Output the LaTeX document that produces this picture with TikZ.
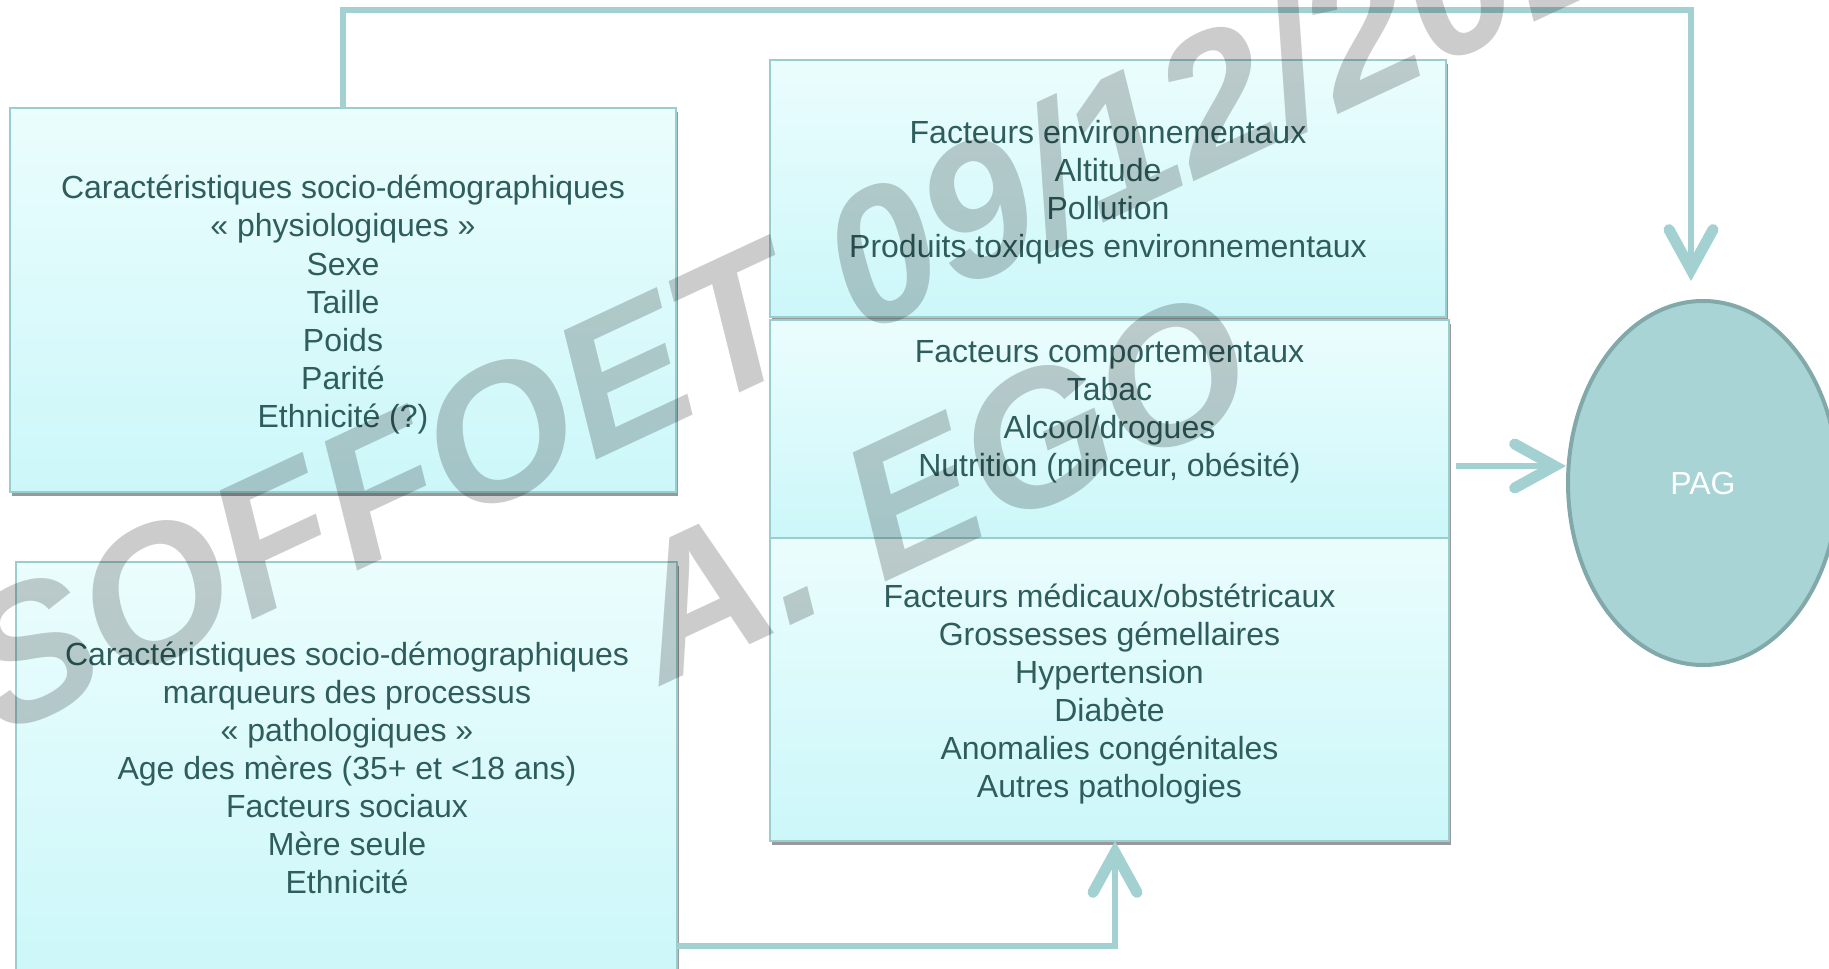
\documentclass[tikz,border=0pt]{standalone}
\usepackage{fontspec}
\setmainfont{Liberation Sans}
\usetikzlibrary{arrows.meta,shadows,shapes.geometric}
\definecolor{txt}{HTML}{2E5D5C}
\definecolor{boxtop}{HTML}{EBFDFD}
\definecolor{boxbot}{HTML}{CCF7F9}
\definecolor{boxline}{HTML}{9ACDD0}
\definecolor{arrowc}{HTML}{A3D1D2}
\definecolor{pagfill}{HTML}{A9D4D5}
\definecolor{pagline}{HTML}{82A9AA}
\begin{document}
\begin{tikzpicture}[x=0.5pt,y=-0.5pt,
  box/.style={draw=boxline, line width=0.9pt, top color=boxtop, bottom color=boxbot,
    inner sep=0pt, outer sep=0pt,
    drop shadow={shadow xshift=1.2pt, shadow yshift=-1.8pt, opacity=0.4, fill=black}},
  boxtext/.style={text=txt, align=center, font=\fontsize{16}{19.05}\selectfont, inner sep=0pt},
  conn/.style={draw=arrowc, line width=3pt},
  tipped/.style={-{Straight Barb[length=20pt,width=22pt,line width=5.5pt,line cap=round]}},
  wm/.style={font=\fontsize{95}{95}\selectfont\bfseries\itshape, text=black, text opacity=0.2,
    inner sep=0pt, anchor=base west, rotate=25},
]
\path[use as bounding box, clip] (0,0) rectangle (1829,968);
\fill[white] (0,0) rectangle (1829,968);

% left boxes
\node[box, minimum width=333pt, minimum height=192pt] (b1) at (343,300) {};
\node[boxtext] (t1) at (343,304.7)
  {Caractéristiques socio-démographiques\\« physiologiques »\\Sexe\\Taille\\Poids\\Parité\\Ethnicité (?)};
\node[box, minimum width=330.5pt, minimum height=206.5pt] (b2) at (346.5,768.5) {};
\node[boxtext] (t2) at (347,768)
  {Caractéristiques socio-démographiques\\marqueurs des processus\\« pathologiques »\\Age des mères (35+ et <18 ans)\\Facteurs sociaux\\Mère seule\\Ethnicité};

% right column
\node[box, minimum width=338pt, minimum height=128.5pt] (bA) at (1108,188.5) {};
\node[boxtext] (tA) at (1108,192)
  {Facteurs environnementaux\\Altitude\\Pollution\\Produits toxiques environnementaux};
\node[box, minimum width=339.5pt, minimum height=109pt] (bB) at (1109.5,429) {};
\node[boxtext] (tB) at (1109.5,412)
  {Facteurs comportementaux\\Tabac\\Alcool/drogues\\Nutrition (minceur, obésité)};
\node[box, minimum width=339.5pt, minimum height=151.5pt] (bC) at (1109.5,689.5) {};
\node[boxtext] (tC) at (1109.5,694.2)
  {Facteurs médicaux/obstétricaux\\Grossesses gémellaires\\Hypertension\\Diabète\\Anomalies congénitales\\Autres pathologies};

% PAG
\node[ellipse, minimum width=135pt, minimum height=182pt, inner sep=0pt, fill=pagfill, draw=pagline,
  line width=2pt, text=white, font=\fontsize{16}{19}\selectfont] (pag) at (1703,483) {PAG};

% connectors
\coordinate (topR) at (1691,10);
\coordinate (topTip) at (1691,281);
\draw[conn, tipped] (b1.north) |- (topR) -- (topTip);

\coordinate (midS) at (1456,466);
\draw[conn, tipped] (midS) -- (midS -| pag.west);

\coordinate (botS) at (677,946);
\coordinate (botE) at (1115,841);
\draw[conn, tipped] (botS) -| (botE);

% watermark
\node[wm] (wm1) at (0,738) {SOFFOET 09/12/2014};
\node[wm] (wm2) at (662,686) {A. EGO};
\end{tikzpicture}
\end{document}
